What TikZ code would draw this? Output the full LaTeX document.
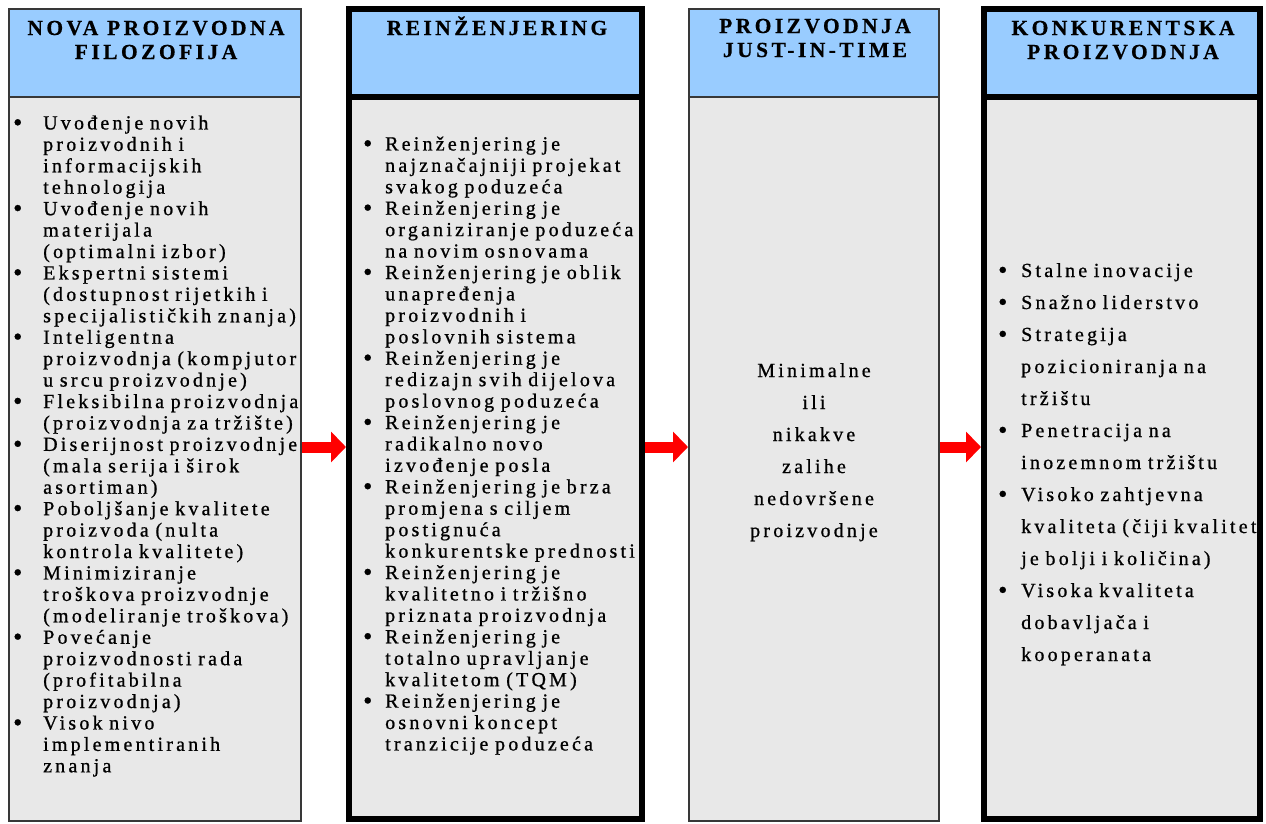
\documentclass[tikz,border=0pt]{standalone}
\usepackage{fontspec}
\setmainfont{Liberation Serif}
\newfontfamily\bodyfont[LetterSpace=16,FakeBold=0.8]{Liberation Serif}
\newfontfamily\hdrfont[LetterSpace=16,FakeBold=0.5]{Liberation Serif}
\usetikzlibrary{arrows.meta}
\definecolor{hdrblue}{HTML}{99CCFF}
\definecolor{bodygray}{HTML}{E8E8E8}
\definecolor{edgegray}{HTML}{383838}
\definecolor{arrowred}{HTML}{FF0000}
\newlength\bulind
\newcommand{\itm}[1]{\par\hangindent=\bulind\hangafter=1\noindent\makebox[\bulind][l]{\raisebox{-1.5pt}{\fontsize{26}{26}\selectfont\textbullet}}#1}
\tikzset{
  thinbox/.style={draw=edgegray, line width=2pt, anchor=north west, inner sep=0pt},
  thickbox/.style={draw=black, line width=6pt, anchor=north west, inner sep=0pt},
  hdrfill/.style={fill=hdrblue},
  bodyfill/.style={fill=bodygray},
  hdrtext/.style={font={\hdrfont\bfseries\fontsize{21.5}{24}\selectfont}, align=center, inner sep=0pt, anchor=base},
  listtext/.style={font={\bodyfont\fontsize{20}{21.43}\selectfont}, text width=320pt, align=left, inner sep=0pt, anchor=base west},
  widelist/.style={font={\bodyfont\fontsize{20}{32}\selectfont}, text width=320pt, align=left, inner sep=0pt, anchor=base west},
  centertext/.style={font={\bodyfont\fontsize{20}{32}\selectfont}, align=center, inner sep=0pt, anchor=base},
  blockarrow/.style={draw=arrowred, line width=11pt, -{Triangle[length=15pt,width=30pt]}}
}
\begin{document}
\begin{tikzpicture}[x=1pt,y=-1pt]
\useasboundingbox (0,0) rectangle (1266,823);
% column 1
\node[thinbox, bodyfill, minimum width=292pt, minimum height=724pt] (b1) at (8,96) {};
\node[thinbox, hdrfill, minimum width=292pt, minimum height=88pt] (h1) at (8,8) {};
% column 2
\node[thickbox, bodyfill, minimum width=293pt, minimum height=722pt] (b2) at (346,94) {};
\node[thickbox, hdrfill, minimum width=293pt, minimum height=88pt] (h2) at (346,6) {};
% column 3
\node[thinbox, bodyfill, minimum width=250pt, minimum height=724pt] (b3) at (688,96) {};
\node[thinbox, hdrfill, minimum width=250pt, minimum height=88pt] (h3) at (688,8) {};
% column 4
\node[thickbox, bodyfill, minimum width=276pt, minimum height=722pt] (b4) at (981,94) {};
\node[thickbox, hdrfill, minimum width=276pt, minimum height=88pt] (h4) at (981,6) {};
% headers
\node[hdrtext] (ht1) at (156,59) {NOVA PROIZVODNA\\FILOZOFIJA};
\node[hdrtext] (ht2) at (497,35) {REINŽENJERING};
\node[hdrtext] (ht3) at (815,57) {PROIZVODNJA\\JUST-IN-TIME};
\node[hdrtext] (ht4) at (1123,59) {KONKURENTSKA\\PROIZVODNJA};
% column 1 list
\node[listtext] (t1) at (13,108) {\setlength\bulind{30pt}%
\itm{Uvođenje novih\newline proizvodnih i\newline informacijskih\newline tehnologija}%
\itm{Uvođenje novih\newline materijala\newline (optimalni izbor)}%
\itm{Ekspertni sistemi\newline (dostupnost rijetkih i\newline specijalističkih znanja)}%
\itm{Inteligentna\newline proizvodnja (kompjutor\newline u srcu proizvodnje)}%
\itm{Fleksibilna proizvodnja\newline (proizvodnja za tržište)}%
\itm{Diserijnost proizvodnje\newline (mala serija i širok\newline asortiman)}%
\itm{Poboljšanje kvalitete\newline proizvoda (nulta\newline kontrola kvalitete)}%
\itm{Minimiziranje\newline troškova proizvodnje\newline (modeliranje troškova)}%
\itm{Povećanje\newline proizvodnosti rada\newline (profitabilna\newline proizvodnja)}%
\itm{Visok nivo\newline implementiranih\newline znanja}\par};
% column 2 list
\node[listtext] (t2) at (363,129) {\setlength\bulind{22pt}%
\itm{Reinženjering je\newline najznačajniji projekat\newline svakog poduzeća}%
\itm{Reinženjering je\newline organiziranje poduzeća\newline na novim osnovama}%
\itm{Reinženjering je oblik\newline unapređenja\newline proizvodnih i\newline poslovnih sistema}%
\itm{Reinženjering je\newline redizajn svih dijelova\newline poslovnog poduzeća}%
\itm{Reinženjering je\newline radikalno novo\newline izvođenje posla}%
\itm{Reinženjering je brza\newline promjena s ciljem\newline postignuća\newline konkurentske prednosti}%
\itm{Reinženjering je\newline kvalitetno i tržišno\newline priznata proizvodnja}%
\itm{Reinženjering je\newline totalno upravljanje\newline kvalitetom (TQM)}%
\itm{Reinženjering je\newline osnovni koncept\newline tranzicije poduzeća}\par};
% column 3 text
\node[centertext] (t3) at (814,537) {Minimalne\\ili\\nikakve\\zalihe\\nedovršene\\proizvodnje};
% column 4 list
\node[widelist] (t4) at (998,245) {\setlength\bulind{23pt}%
\itm{Stalne inovacije}%
\itm{Snažno liderstvo}%
\itm{Strategija\newline pozicioniranja na\newline tržištu}%
\itm{Penetracija na\newline inozemnom tržištu}%
\itm{Visoko zahtjevna\newline kvaliteta (čiji kvalitet\newline je bolji i količina)}%
\itm{Visoka kvaliteta\newline dobavljača i\newline kooperanata}\par};
% arrows
\draw[blockarrow] (b1.east |- 0,447) -- (b2.west |- 0,447);
\draw[blockarrow] (b2.east |- 0,447) -- (b3.west |- 0,447);
\draw[blockarrow] (b3.east |- 0,447) -- (b4.west |- 0,447);
\end{tikzpicture}
\end{document}
